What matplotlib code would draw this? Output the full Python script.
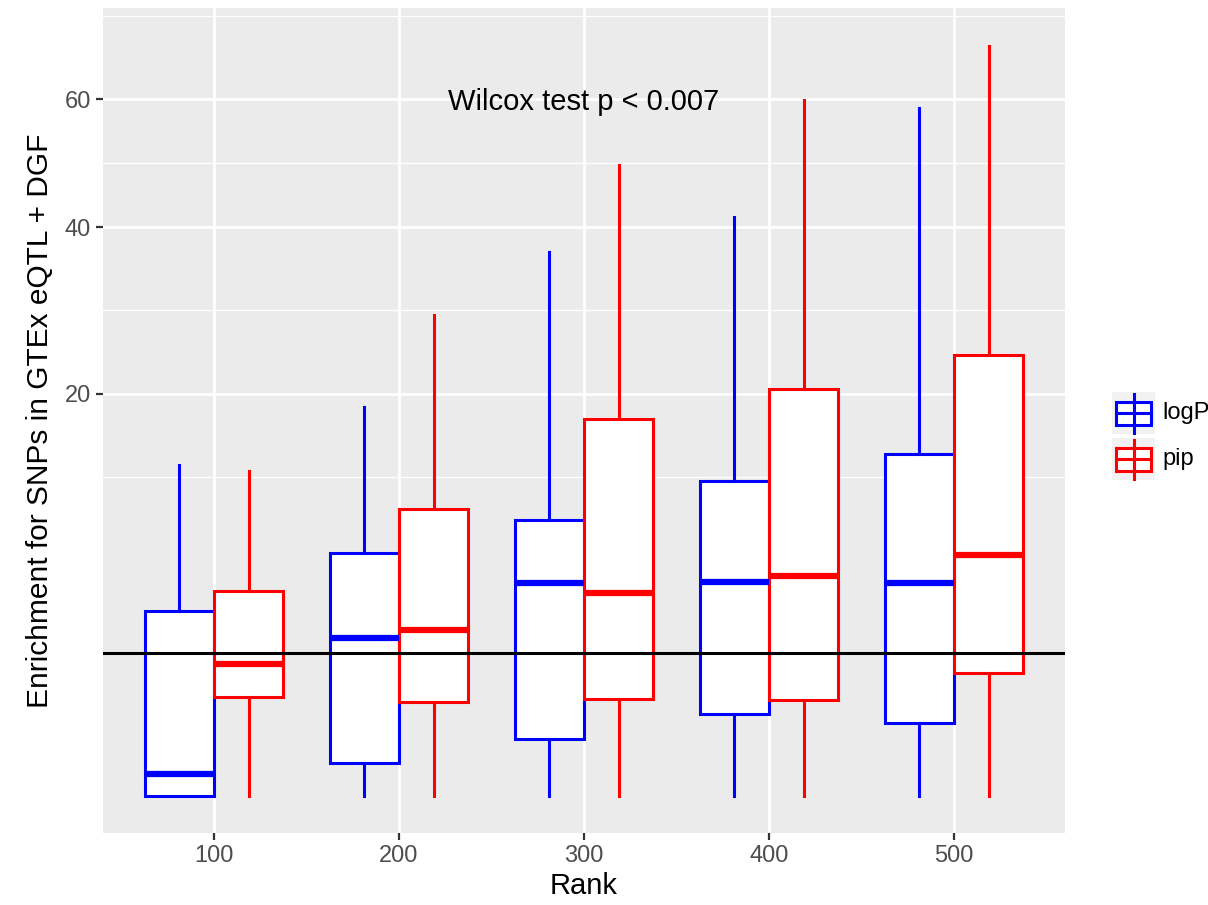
import matplotlib.pyplot as plt
import numpy as np
from matplotlib.patches import Rectangle

plt.rcParams['font.family'] = ['Liberation Sans', 'DejaVu Sans']

# ranks on the x axis
ranks = ['100', '200', '300', '400', '500']

# box statistics: whisker low, q1, median, q3, whisker high
logp_low = [0.0, 0.0, 0.0, 0.0, 0.0]
logp_q1 = [0.0, 0.13, 0.40, 0.82, 0.65]
logp_med = [0.055, 3.06, 5.61, 5.65, 5.61]
logp_q3 = [4.21, 7.30, 9.37, 12.23, 14.45]
logp_high = [13.56, 18.72, 36.56, 41.41, 58.45]

pip_low = [0.0, 0.0, 0.0, 0.0, 0.0]
pip_q1 = [1.20, 1.08, 1.15, 1.13, 1.87]
pip_med = [2.13, 3.41, 5.10, 5.97, 7.14]
pip_q3 = [5.18, 10.13, 17.52, 20.49, 24.04]
pip_high = [13.0, 28.6, 49.17, 59.81, 69.62]

hline_y = 2.5
ytick_vals = [20, 40, 60]
label_txt = 'Wilcox test p < 0.007'


def fwd(v):
    v = np.asarray(v, dtype=float)
    return np.sign(v) * np.sqrt(np.abs(v))


def inv(v):
    v = np.asarray(v, dtype=float)
    return np.sign(v) * v ** 2


def make_stats(low, q1, med, q3, high):
    out = []
    for i in range(len(low)):
        out.append({'whislo': low[i], 'q1': q1[i], 'med': med[i],
                    'q3': q3[i], 'whishi': high[i], 'fliers': []})
    return out


fig = plt.figure(figsize=(12.08, 9.05), dpi=100)
ax = fig.add_axes([103 / 1208, 1 - 833 / 905, (1065 - 103) / 1208, (833 - 8) / 905])
ax.set_facecolor('#EBEBEB')
ax.set_yscale('function', functions=(fwd, inv))

pos = np.arange(1, len(ranks) + 1)
w = 0.375
series = [
    ('logP', '#0000FF', make_stats(logp_low, logp_q1, logp_med, logp_q3, logp_high), -w / 2),
    ('pip', '#FF0000', make_stats(pip_low, pip_q1, pip_med, pip_q3, pip_high), w / 2),
]
for name, col, st, off in series:
    ax.bxp(st, positions=pos + off, widths=w, patch_artist=True, showcaps=False,
           showfliers=False, manage_ticks=False,
           boxprops=dict(facecolor='white', edgecolor=col, linewidth=2.2),
           medianprops=dict(color=col, linewidth=4.5, solid_capstyle='butt'),
           whiskerprops=dict(color=col, linewidth=2.2))

ax.axhline(hline_y, color='black', linewidth=2.2, zorder=5)

# limits: 5% expansion in sqrt space
all_hi = max(max(logp_high), max(pip_high))
all_lo = min(min(logp_low), min(pip_low))
span = fwd(all_hi) - fwd(all_lo)
ax.set_ylim(inv(fwd(all_lo) - 0.05 * span), inv(fwd(all_hi) + 0.05 * span))
ax.set_xlim(0.4, len(ranks) + 0.6)

# grid: major at ticks, minor at midpoints in sqrt space
ax.set_yticks(ytick_vals)
ax.set_yticklabels([str(v) for v in ytick_vals])
t = fwd(ytick_vals)
d = t[1] - t[0]
ext = np.concatenate([[t[0] - d], t, [t[-1] + d]])
minor = inv((ext[:-1] + ext[1:]) / 2)
ax.set_yticks(minor, minor=True)
ax.tick_params(axis='y', which='minor', length=0)
ax.set_xticks(pos)
ax.set_xticklabels(ranks)
ax.grid(which='major', color='white', linewidth=2.0)
ax.grid(which='minor', axis='y', color='white', linewidth=1.0)
ax.set_axisbelow(True)
for s in ax.spines.values():
    s.set_visible(False)
ax.tick_params(axis='both', which='major', length=5, width=1.6, color='#333333',
               labelcolor='#4D4D4D', labelsize=17)

ax.set_xlabel('Rank', fontsize=21, color='black', labelpad=4)
ax.set_ylabel('Enrichment for SNPs in GTEx eQTL + DGF', fontsize=21.5, color='black', labelpad=8)

ax.text(3, 60, label_txt, ha='center', va='center_baseline', fontsize=21, color='black')

# legend drawn by hand, in pixel coordinates
lax = fig.add_axes([1108 / 1208, 1 - 485 / 905, 100 / 1208, 100 / 905])
lax.set_xlim(1108, 1208)
lax.set_ylim(485, 385)
lax.axis('off')
for (name, col, st, off), top in zip(series, [392, 438]):
    lax.add_patch(Rectangle((1112, top), 43, 42, facecolor='#F2F2F2', edgecolor='none'))
    lax.plot([1133.5, 1133.5], [top + 2, top + 41], color=col, linewidth=2.2)
    lax.add_patch(Rectangle((1116, top + 10), 35, 23, facecolor='white', edgecolor=col, linewidth=2.2))
    lax.plot([1116, 1151], [top + 21.5, top + 21.5], color=col, linewidth=2.2)
    lax.text(1162, top + 21, name, ha='left', va='center', fontsize=17, color='black', clip_on=False)

fig.savefig('out.png', dpi=100)
